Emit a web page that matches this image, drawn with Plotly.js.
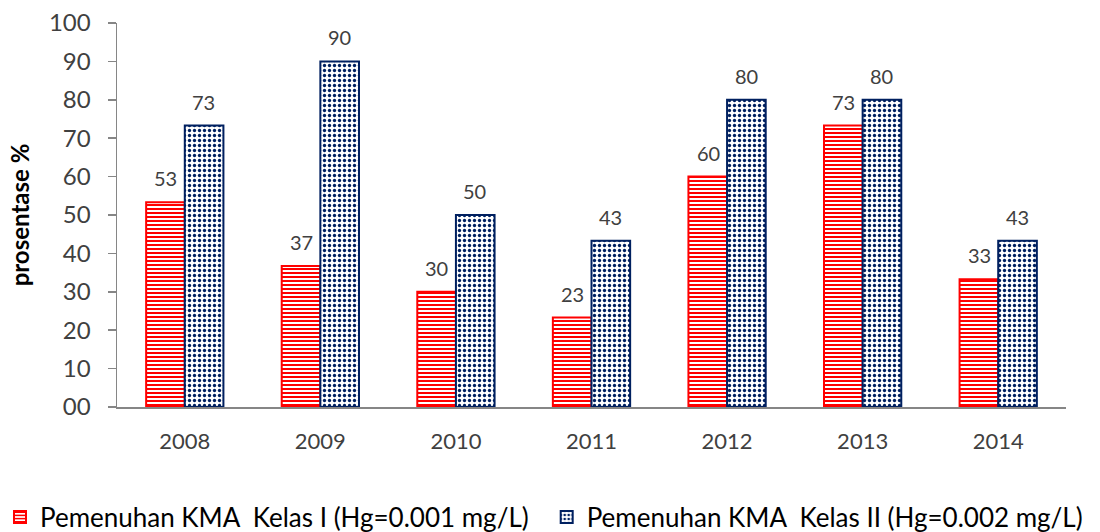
<!DOCTYPE html>
<html>
<head>
<meta charset="utf-8">
<script src="https://cdn.plot.ly/plotly-3.0.1.min.js"></script>
<style>html,body{margin:0;padding:0;background:#fff;}#chart{width:1100px;height:532px;}</style>
</head>
<body>
<div id="chart"></div>
<script>
const years = ['2008','2009','2010','2011','2012','2013','2014'];
const kelasI = [53.3, 36.7, 30, 23.3, 60, 73.3, 33.3];
const kelasII = [73.3, 90, 50, 43.3, 80, 80, 43.3];
const nameI = 'Pemenuhan KMA  Kelas I (Hg=0.001 mg/L)';
const nameII = 'Pemenuhan KMA  Kelas II (Hg=0.002 mg/L)';
const yTickVals = [0,10,20,30,40,50,60,70,80,90,100];
const yTickText = ['00','10','20','30','40','50','60','70','80','90','100'];

const FONT = 'Lato, "Open Sans", sans-serif';
const RED = '#FF0000';
const NAVY = '#002060';

const traces = [
  {
    type: 'bar', name: nameI, x: years, y: kelasI, legend: 'legend',
    marker: {color: '#fff', line: {color: RED, width: 2},
      pattern: {shape: '-', fgcolor: RED, bgcolor: '#ffffff', size: 4, solidity: 0.5}},
    hoverinfo: 'skip'
  },
  {
    type: 'bar', name: nameII, x: years, y: kelasII, legend: 'legend2',
    marker: {color: '#fff', line: {color: NAVY, width: 2},
      pattern: {shape: '.', fgcolor: NAVY, bgcolor: '#ffffff', size: 5, solidity: 0.35}},
    hoverinfo: 'skip'
  }
];

const annotations = [];
years.forEach((yr, i) => {
  annotations.push({x: yr, y: kelasI[i], text: String(Math.round(kelasI[i])), showarrow: false,
    xshift: -19, yshift: 24, font: {family: FONT, size: 20, color: '#404040'}});
  annotations.push({x: yr, y: kelasII[i], text: String(Math.round(kelasII[i])), showarrow: false,
    xshift: 19, yshift: 24, font: {family: FONT, size: 20, color: '#404040'}});
});

const legendBase = {
  orientation: 'h', xref: 'container', yref: 'container', xanchor: 'left',
  y: 0.028, yanchor: 'middle', font: {family: FONT, size: 26, color: '#000'}
};

const layout = {
  width: 1100, height: 532,
  margin: {l: 117, r: 34, t: 23, b: 125},
  paper_bgcolor: '#fff', plot_bgcolor: '#fff',
  barmode: 'group', bargap: 0.43, bargroupgap: 0,
  font: {family: FONT, color: '#404040'},
  xaxis: {
    showline: true, linecolor: '#868686', linewidth: 1.5, showgrid: false, zeroline: false,
    ticks: '', tickfont: {family: FONT, size: 22, color: '#404040'}, ticklabelstandoff: 14
  },
  yaxis: {
    range: [0, 100], tickvals: yTickVals, ticktext: yTickText,
    showline: true, linecolor: '#868686', linewidth: 1.5, showgrid: false, zeroline: false,
    ticks: 'outside', ticklen: 8, tickcolor: '#868686', tickwidth: 1.5,
    tickfont: {family: FONT, size: 24, color: '#404040'}, ticklabelstandoff: 12,
    title: {text: '<b>prosentase %</b>', font: {family: FONT, size: 24, color: '#000'}, standoff: 12}
  },
  legend: Object.assign({}, legendBase, {x: 0.0}),
  legend2: Object.assign({}, legendBase, {x: 0.497}),
  annotations: annotations,
  showlegend: true
};

Plotly.newPlot('chart', traces, layout, {displayModeBar: false, staticPlot: true});
</script>
</body>
</html>
